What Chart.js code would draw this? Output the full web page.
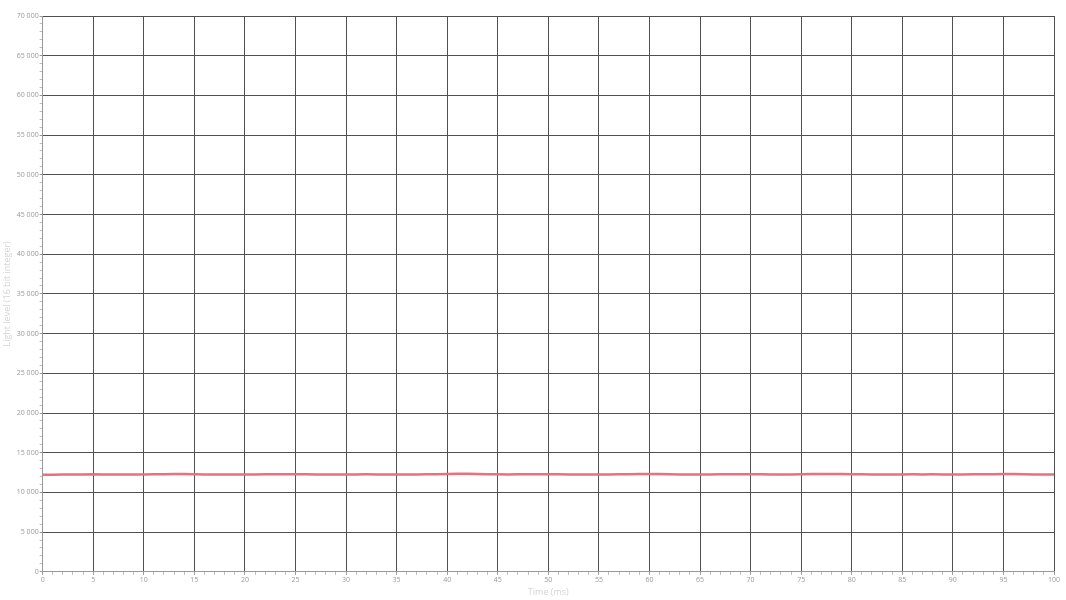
<!DOCTYPE html>
<html>
<head>
<meta charset="utf-8">
<script src="https://cdn.jsdelivr.net/npm/chart.js@4/dist/chart.umd.min.js"></script>
<style>
  html, body { margin: 0; padding: 0; background: #fff; }
  #wrap { width: 1066px; height: 600px; }
</style>
</head>
<body>
<div id="wrap"><canvas id="lightChart" width="1066" height="600"></canvas></div>
<script>
// -------- DATA -------- //
var timeMs = [];
for (var t = 0; t <= 100; t++) timeMs.push(t);

var lightLevel = [
  12220, 12230, 12240, 12250, 12270, 12300, 12260, 12250, 12240, 12250,
  12260, 12280, 12300, 12330, 12320, 12280, 12260, 12250, 12240, 12250,
  12260, 12270, 12280, 12290, 12300, 12300, 12280, 12270, 12260, 12250,
  12260, 12270, 12280, 12270, 12260, 12250, 12250, 12260, 12280, 12300,
  12320, 12340, 12340, 12320, 12300, 12280, 12270, 12280, 12290, 12300,
  12290, 12280, 12270, 12260, 12250, 12250, 12260, 12280, 12300, 12320,
  12330, 12310, 12290, 12270, 12260, 12260, 12270, 12280, 12290, 12300,
  12290, 12280, 12270, 12260, 12270, 12290, 12310, 12330, 12330, 12320,
  12300, 12280, 12270, 12260, 12260, 12270, 12280, 12270, 12280, 12270,
  12260, 12270, 12280, 12290, 12300, 12310, 12320, 12300, 12270, 12250,
  12240
];

var yTickMax = 70000;
var xTickMax = 100;

function spaced(v) {
  return String(v).replace(/\B(?=(\d{3})+(?!\d))/g, ' ');
}

// -------- LINE CHART (Light level) -------- //
var ctx = document.getElementById('lightChart').getContext('2d');

new Chart(ctx, {
  type: 'line',
  data: {
    labels: timeMs,
    datasets: [{
      label: 'Light level',
      data: timeMs.map(function (t, i) { return { x: t, y: lightLevel[i] }; }),
      borderColor: '#ec6f7d',
      borderWidth: 2.5,
      pointRadius: 0,
      tension: 0
    }]
  },
  options: {
    responsive: false,
    animation: false,
    layout: { padding: { top: 16, right: 12, left: 0, bottom: 2 } },
    plugins: {
      legend: { display: false },
      tooltip: { enabled: false }
    },
    scales: {
      x: {
        type: 'linear',
        min: 0,
        max: xTickMax,
        border: { color: '#999', width: 1 },
        grid: {
          color: function (c) { return c.tick && c.tick.value % 5 === 0 ? '#505050' : 'rgba(0,0,0,0)'; },
          tickColor: function (c) { return c.tick && c.tick.value % 5 === 0 ? '#999' : '#bbb'; },
          tickLength: 3,
          lineWidth: 1
        },
        ticks: {
          stepSize: 1,
          autoSkip: false,
          maxRotation: 0,
          padding: 1,
          color: '#999',
          font: { family: 'Open Sans', size: 7 },
          callback: function (v) { return v % 5 === 0 ? String(v) : ''; }
        },
        title: {
          display: true,
          text: 'Time (ms)',
          color: '#d4d4d4',
          font: { family: 'Open Sans', size: 9 },
          padding: { top: 2, bottom: 0 }
        }
      },
      y: {
        min: 0,
        max: yTickMax,
        border: { color: '#999', width: 1 },
        grid: {
          color: function (c) { return c.tick && c.tick.value % 5000 === 0 ? '#505050' : 'rgba(0,0,0,0)'; },
          tickColor: function (c) { return c.tick && c.tick.value % 5000 === 0 ? '#999' : '#bbb'; },
          tickLength: 3,
          lineWidth: 1
        },
        ticks: {
          stepSize: 1000,
          autoSkip: false,
          padding: 1,
          color: '#999',
          font: { family: 'Open Sans', size: 7 },
          callback: function (v) { return v % 5000 === 0 ? spaced(v) : ''; }
        },
        title: {
          display: true,
          text: 'Light level (16 bit integer)',
          color: '#d4d4d4',
          font: { family: 'Open Sans', size: 9 },
          padding: { top: 2, bottom: 3 }
        }
      }
    }
  }
});
</script>
</body>
</html>
